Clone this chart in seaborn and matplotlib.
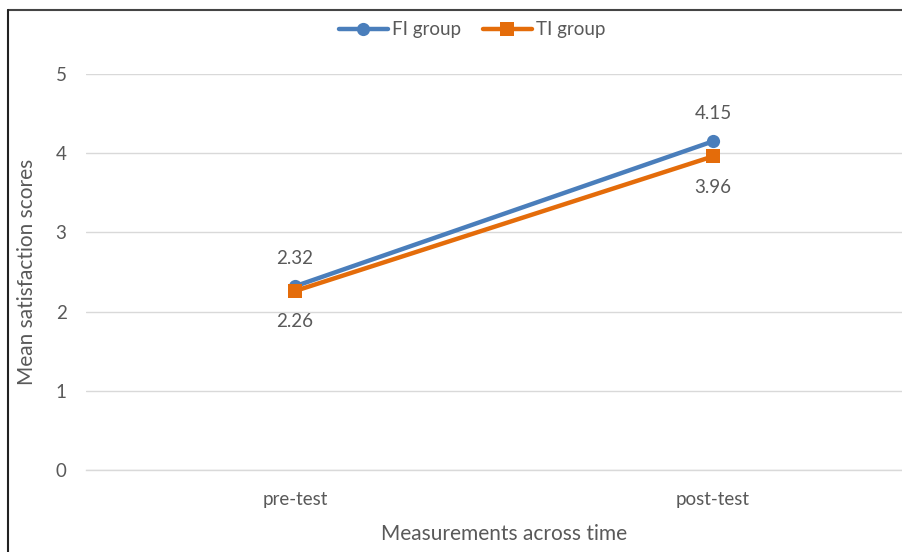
import pandas as pd
import seaborn as sns
import matplotlib.pyplot as plt
from matplotlib.lines import Line2D

times = ['pre-test', 'post-test']
fi_scores = [2.32, 4.15]
ti_scores = [2.26, 3.96]
groups = ['FI group', 'TI group']

data = pd.DataFrame({
    'time': times * 2,
    'score': fi_scores + ti_scores,
    'group': [groups[0]] * 2 + [groups[1]] * 2,
})

sns.set_style('white')
plt.rcParams['font.family'] = ['Lato', 'DejaVu Sans']
grey = '#595959'
colors = {'FI group': '#4a7ebb', 'TI group': '#e46c0a'}

fig = plt.figure(figsize=(9.03, 5.52), dpi=100)
ax = fig.add_axes([86 / 903, 82 / 552, 836 / 903, 396 / 552])

sns.lineplot(data=data, x='time', y='score', hue='group', style='group',
             markers={'FI group': 'o', 'TI group': 's'}, dashes=False,
             palette=colors, linewidth=3.2, markersize=9.5,
             markeredgewidth=0, sort=False, ax=ax, legend=False)

ax.set_xlim(-0.5, 1.5)
ax.set_ylim(0, 5)
ax.set_yticks(range(6))
ax.yaxis.grid(True, color='#d9d9d9', linewidth=1)
ax.set_axisbelow(True)
for s in ['top', 'right', 'left']:
    ax.spines[s].set_visible(False)
ax.spines['bottom'].set_color('#d9d9d9')
ax.spines['bottom'].set_linewidth(1)

ax.set_xticks([0, 1])
ax.set_xticklabels(times)
ax.set_xticks([-0.5, 0.5, 1.5], minor=True)
ax.tick_params(axis='x', which='major', length=0, pad=15, labelsize=13.5, labelcolor=grey)
ax.tick_params(axis='x', which='minor', length=6, color='#d9d9d9', direction='out')
ax.tick_params(axis='y', length=0, pad=14, labelsize=13.5, labelcolor=grey)

ax.set_xlabel('Measurements across time', fontsize=15, color=grey, labelpad=12)
ax.set_ylabel('Mean satisfaction scores', fontsize=15, color=grey, labelpad=13)

for i, v in enumerate(fi_scores):
    ax.annotate(f'{v:.2f}', (i, v), xytext=(0, 14), textcoords='offset points',
                ha='center', va='bottom', fontsize=13.5, color=grey)
for i, v in enumerate(ti_scores):
    ax.annotate(f'{v:.2f}', (i, v), xytext=(0, -16), textcoords='offset points',
                ha='center', va='top', fontsize=13.5, color=grey)

handles = [Line2D([], [], color=colors['FI group'], marker='o', lw=3.2, ms=9.5, mew=0),
           Line2D([], [], color=colors['TI group'], marker='s', lw=3.2, ms=9.5, mew=0)]
leg = fig.legend(handles, groups, loc='center', bbox_to_anchor=(472 / 903, 1 - 30 / 552),
                 ncol=2, frameon=False, fontsize=13.5, handlelength=2.6,
                 handletextpad=0.2, columnspacing=1.2)
for t in leg.get_texts():
    t.set_color(grey)

# frame edges of the original chart box
fig.add_artist(Line2D([8 / 903, 1], [1 - 10 / 552] * 2, color='#444444', lw=1.5))
fig.add_artist(Line2D([8 / 903] * 2, [0, 1 - 10 / 552], color='#222222', lw=1.5))

fig.savefig('out.png', dpi=100)
